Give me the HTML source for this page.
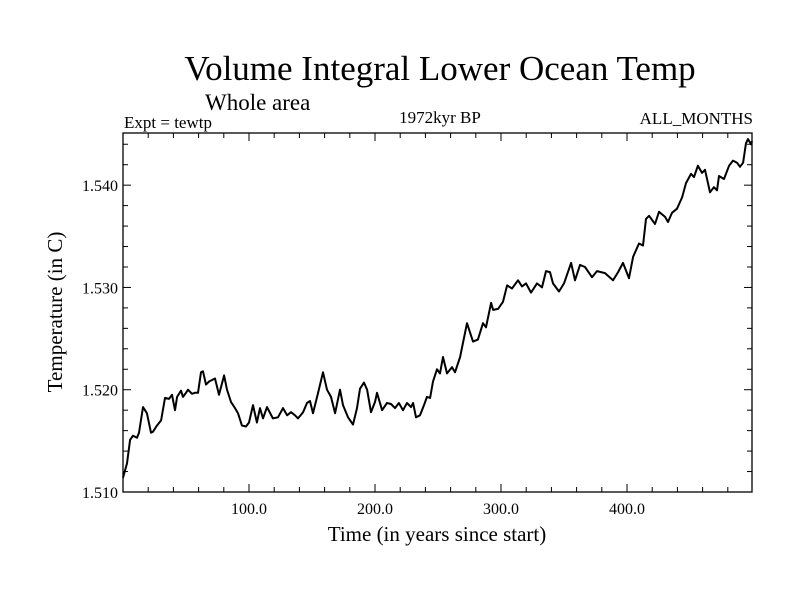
<!DOCTYPE html>
<html><head><meta charset="utf-8"><style>
body{margin:0;background:#fff}
svg text{font-family:"Liberation Serif",serif;fill:#000}
</style></head><body>
<svg id="chart" width="800" height="600" viewBox="0 0 800 600">
<rect width="800" height="600" fill="#fff"/>
<text x="440" y="80" font-size="35" text-anchor="middle">Volume Integral Lower Ocean Temp</text>
<text x="205" y="110" font-size="23">Whole area</text>
<text x="124" y="128" font-size="17">Expt = tewtp</text>
<text x="440" y="123" font-size="17" text-anchor="middle">1972kyr BP</text>
<text x="753" y="124" font-size="17" text-anchor="end">ALL_MONTHS</text>
<text x="437" y="541" font-size="21" text-anchor="middle">Time (in years since start)</text>
<text transform="translate(62,312) rotate(-90)" font-size="21" text-anchor="middle">Temperature (in C)</text>
<g id="axes"></g>
<path id="line" fill="none" stroke="#000" stroke-width="2" stroke-linejoin="round"/>
</svg>
<script>
const years=[0,3.2,5.6,7.9,11.1,12.7,15.9,19,22.2,23.8,27,30.2,33.3,36.5,38.9,41.3,42.9,46,47.6,50,51.6,54.8,57.1,59.5,61.9,63.5,65.9,68.3,73,76.2,80.2,82.5,85.7,88.9,91.3,94.4,97.6,100,103.2,106.3,108.7,111.1,114.3,119,123,127,130.2,133.3,136.5,138.9,142.9,146,148.4,150.8,154.8,158.7,161.9,165.1,168.3,172.2,174.6,178.6,182.5,185.7,188.1,191.3,193.7,196.8,200,201.6,205.6,209.5,212.7,215.9,219,222.2,225.4,228.6,230.2,232.5,235.7,238.9,241.3,243.7,246,249.2,251.6,
254,257.1,261.1,263.5,267.5,273,277.8,281.7,285.7,288.1,292.1,293.7,297.6,301.6,304.8,308.7,313.5,316.7,319.8,323.8,328.6,332.5,335.7,338.9,341.3,346,350,355.6,358.7,362.7,366.7,372.2,376.2,382.5,388.9,392.9,396.8,401.6,404.8,409.5,412.7,415.1,417.5,422.2,425.4,430.2,432.5,435.7,439.7,443.7,446.8,450.8,453.2,456.3,459.5,461.9,465.9,469,471.4,473,477,481,484.1,487.3,489.7,492.1,494.4,496,498.4,499.2];
const temps=[1.5114,1.5128,1.5151,1.5155,1.5153,1.5158,1.5183,1.5177,1.5158,1.5159,1.5165,1.5170,1.5192,1.5191,1.5195,1.5180,1.5193,1.5199,1.5193,1.5197,1.5200,1.5196,1.5197,1.5197,1.5217,1.5218,1.5205,1.5208,1.5211,1.5195,1.5214,1.5200,1.5188,1.5182,1.5177,1.5165,1.5164,1.5168,1.5185,1.5168,1.5182,1.5172,1.5183,1.5172,1.5173,1.5182,1.5175,1.5178,1.5175,1.5172,1.5178,1.5187,1.5189,1.5177,1.5197,1.5217,1.5200,1.5193,1.5177,1.5200,1.5185,1.5173,1.5166,1.5182,1.5201,1.5207,1.5200,1.5178,1.5188,1.5197,1.5180,1.5187,1.5186,1.5182,1.5187,1.5180,1.5187,1.5183,1.5187,1.5173,1.5175,1.5185,1.5193,1.5192,1.5208,1.5220,1.5216,
1.5232,1.5216,1.5222,1.5217,1.5232,1.5265,1.5247,1.5249,1.5265,1.5261,1.5285,1.5278,1.5279,1.5286,1.5302,1.5299,1.5307,1.5301,1.5304,1.5295,1.5304,1.5300,1.5316,1.5315,1.5304,1.5296,1.5304,1.5324,1.5307,1.5322,1.5320,1.5310,1.5316,1.5314,1.5307,1.5315,1.5324,1.5309,1.5330,1.5343,1.5341,1.5367,1.5370,1.5362,1.5374,1.5369,1.5364,1.5373,1.5377,1.5388,1.5402,1.5411,1.5408,1.5419,1.5412,1.5415,1.5393,1.5398,1.5395,1.5409,1.5406,1.5419,1.5424,1.5422,1.5418,1.5422,1.5441,1.5445,1.5440,1.5443];
const xTickLabels=["100.0","200.0","300.0","400.0"];
const xTickValues=[100,200,300,400];
const yTickLabels=["1.510","1.520","1.530","1.540"];
const yTickValues=[1.510,1.520,1.530,1.540];
const L=123,R=752,T=133,B=492,X0=0,X1=499.2,Y0=1.510,Y1=1.5451;
const sx=v=>L+(v-X0)/(X1-X0)*(R-L);
const sy=v=>B-(v-Y0)/(Y1-Y0)*(B-T);
const NS="http://www.w3.org/2000/svg";
const ax=document.getElementById('axes');
function mk(tag,attrs){const e=document.createElementNS(NS,tag);for(const k in attrs)e.setAttribute(k,attrs[k]);ax.appendChild(e);return e;}
const frame=mk('rect',{x:L,y:T,width:R-L,height:B-T,fill:'none',stroke:'#000','stroke-width':1.3});


for(let v=20;v<X1;v+=20){const x=sx(v);const major=Math.abs(v%100)<1e-6;const len=major?8:5;
const t1=mk('line',{x1:x,y1:B,x2:x,y2:B-len,stroke:'#000','stroke-width':1});


const t2=mk('line',{x1:x,y1:T,x2:x,y2:T+len,stroke:'#000','stroke-width':1});

}
for(let v=Y0+0.002;v<Y1;v+=0.002){const y=sy(v);const major=Math.abs(((v-Y0)*1000)%10)<0.01||Math.abs(((v-Y0)*1000)%10-10)<0.01;const len=major?8:5;
const t1=mk('line',{x1:L,y1:y,x2:L+len,y2:y,stroke:'#000','stroke-width':1});


const t2=mk('line',{x1:R,y1:y,x2:R-len,y2:y,stroke:'#000','stroke-width':1});

}
xTickValues.forEach((v,i)=>{const t=mk('text',{x:sx(v),y:B+22,'font-size':16,'text-anchor':'middle'});t.textContent=xTickLabels[i];

});
yTickValues.forEach((v,i)=>{const t=mk('text',{x:L-5,y:sy(v)+6,'font-size':16,'text-anchor':'end'});t.textContent=yTickLabels[i];

});
document.getElementById('line').setAttribute('d',years.map((v,i)=>(i?'L':'M')+sx(v).toFixed(1)+','+sy(temps[i]).toFixed(1)).join(''));
</script>
</body></html>
